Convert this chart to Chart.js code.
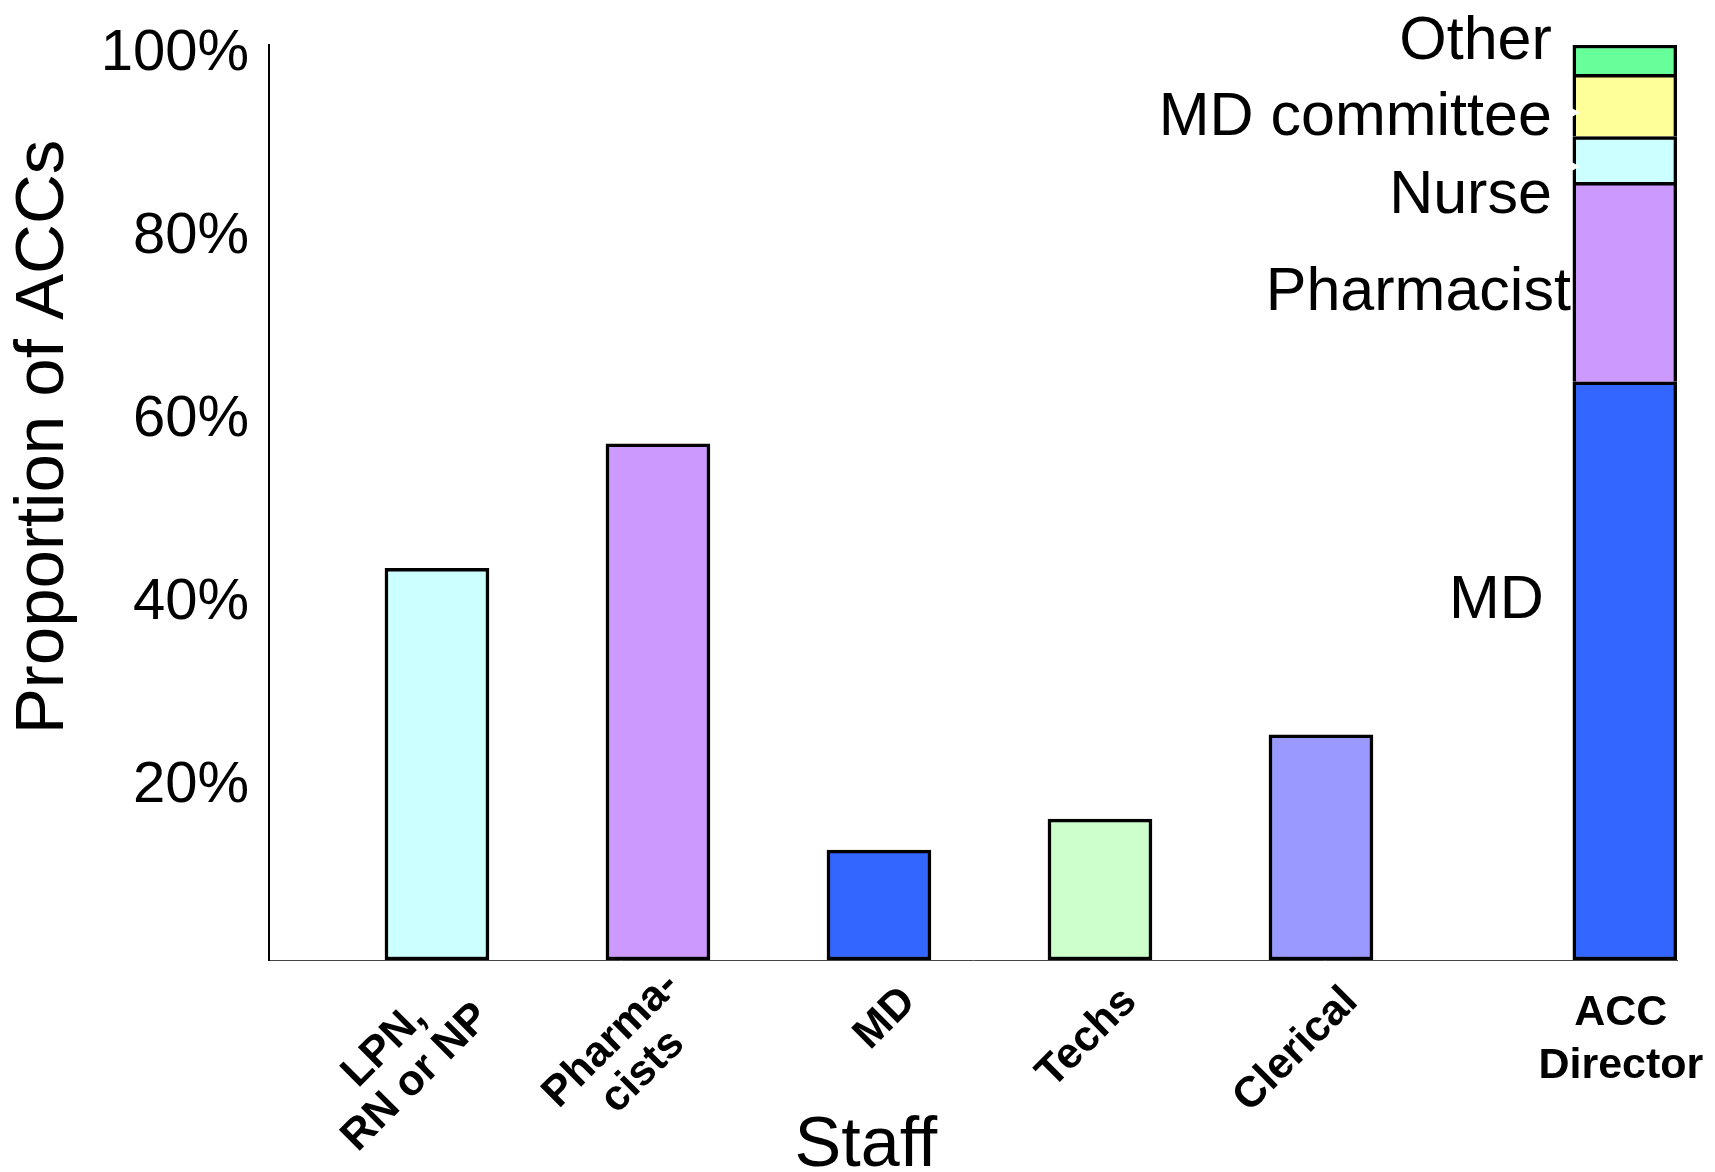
<!DOCTYPE html>
<html>
<head>
<meta charset="utf-8">
<script src="https://cdn.jsdelivr.net/npm/chart.js@4.4.1/dist/chart.umd.min.js"></script>
<style>
  html, body { margin: 0; padding: 0; background: #fff; }
  canvas { display: block; }
</style>
</head>
<body>
<canvas id="chart" width="1715" height="1172"></canvas>
<script>
const FONT = '"Liberation Sans", Arial, Helvetica, sans-serif';

// Staff groups along the x axis (each entry is the lines of its label)
const staffCategories = [['LPN,', 'RN or NP'], ['Pharma-', 'cists'], ['MD'], ['Techs'], ['Clerical']];
const staffValues = [42.8, 56.4, 12.0, 15.4, 24.6];
const staffColors = ['#CCFFFF', '#CC99FF', '#3366FF', '#CCFFCC', '#9999FF'];

// Who directs the ACC: one stacked bar, bottom to top
const directorCategory = ['ACC', 'Director'];
const directorRoles = ['MD', 'Pharmacist', 'Nurse', 'MD committee', 'Other'];
const directorValues = [63.2, 21.8, 5.0, 6.8, 3.2];
const directorColors = ['#3366FF', '#CC99FF', '#CCFFFF', '#FFFF99', '#66FF99'];

// A short gap (part of a slot) separates the staff bars from the director bar
const spacerSlots = 0.375;
const directorSlot = staffCategories.length + spacerSlots;

const yTickStep = 20;
const yMax = 100;
const yTitle = 'Proportion of ACCs';
const xTitle = 'Staff';

const BAR = 104;
const EDGE = 3.5;

// Placement of the role names beside the director bar: [dx from bar edge, dy from segment middle]
const roleLabelShift = {
  'MD': [-29, -53],
  'Pharmacist': [-2, 28],
  'Nurse': [-21, 54],
  'MD committee': [-21, 30],
  'Other': [-21, -1]
};
// Roles whose leader arrows end on the bar edge
const arrowRoles = ['MD committee', 'Nurse'];

const datasets = [{
  label: xTitle,
  data: staffValues.map((v, i) => ({ x: i, y: v })),
  backgroundColor: staffColors,
  borderColor: '#000',
  borderWidth: EDGE,
  borderSkipped: false,
  barThickness: BAR
}];

directorValues.forEach((v, i) => {
  datasets.push({
    label: directorRoles[i],
    data: [{ x: directorSlot, y: v }],
    backgroundColor: directorColors[i],
    borderColor: '#000',
    borderWidth: i === 0 ? EDGE : { top: EDGE, left: EDGE, right: EDGE, bottom: 0 },
    borderSkipped: false,
    barThickness: BAR
  });
});

const annotations = {
  id: 'annotations',
  afterDraw(chart) {
    const ctx = chart.ctx;
    const area = chart.chartArea;
    const xs = chart.scales.x;
    const ys = chart.scales.y;
    ctx.save();
    ctx.fillStyle = '#000';

    // y axis title
    ctx.save();
    ctx.translate(44, 437);
    ctx.rotate(-Math.PI / 2);
    ctx.font = '69px ' + FONT;
    ctx.textAlign = 'center';
    ctx.textBaseline = 'middle';
    ctx.fillText(yTitle, 0, 0);
    ctx.restore();

    // x axis title, centred under the staff bars
    const firstX = xs.getPixelForValue(0);
    const lastX = xs.getPixelForValue(staffCategories.length - 1);
    ctx.font = '70px ' + FONT;
    ctx.textAlign = 'center';
    ctx.textBaseline = 'alphabetic';
    ctx.fillText(xTitle, (firstX + lastX) / 2 - 13, area.bottom + 206);

    // slanted staff labels
    ctx.font = 'bold 43px ' + FONT;
    staffCategories.forEach((lines, i) => {
      const px = xs.getPixelForValue(i) + 30;
      const py = area.bottom + 35;
      const w = Math.max(...lines.map(l => ctx.measureText(l).width));
      ctx.save();
      ctx.translate(px, py);
      ctx.rotate(-Math.PI / 4);
      ctx.textAlign = 'center';
      ctx.textBaseline = 'middle';
      lines.forEach((l, j) => {
        ctx.fillText(l, -w / 2, (j - (lines.length - 1) / 2) * 45);
      });
      ctx.restore();
    });

    // director label, upright
    const accX = xs.getPixelForValue(directorSlot);
    ctx.font = 'bold 43px ' + FONT;
    ctx.textAlign = 'center';
    ctx.textBaseline = 'alphabetic';
    directorCategory.forEach((l, j) => {
      ctx.fillText(l, accX - 4, area.bottom + 65 + j * 53);
    });

    // role names beside the stacked bar
    const barLeft = accX - BAR / 2;
    ctx.font = '61px ' + FONT;
    ctx.textAlign = 'right';
    ctx.textBaseline = 'alphabetic';
    let base = 0;
    directorValues.forEach((v, i) => {
      const mid = ys.getPixelForValue(base + v / 2);
      base += v;
      const role = directorRoles[i];
      const [dx, dy] = roleLabelShift[role];
      ctx.fillStyle = '#000';
      ctx.fillText(role, barLeft + dx, mid + dy);
      if (arrowRoles.includes(role)) {
        // white arrow tip of the leader line on the bar edge
        const ay = mid + 7;
        ctx.fillStyle = '#fff';
        ctx.beginPath();
        ctx.moveTo(barLeft - 4, ay - 6);
        ctx.lineTo(barLeft + 7, ay);
        ctx.lineTo(barLeft - 4, ay + 6);
        ctx.closePath();
        ctx.fill();
      }
    });
    ctx.restore();
  }
};

new Chart(document.getElementById('chart'), {
  type: 'bar',
  data: { datasets },
  options: {
    responsive: false,
    animation: false,
    layout: { padding: { top: 45, right: 38, left: 0, bottom: 0 } },
    plugins: {
      legend: { display: false },
      tooltip: { enabled: false },
      title: { display: false }
    },
    scales: {
      x: {
        type: 'linear',
        offset: false,
        stacked: true,
        min: -0.76,
        max: directorSlot + 0.236,
        grid: { display: false, drawTicks: false, offset: false },
        ticks: { display: false },
        border: { display: true, color: '#444', width: 1 },
        afterFit(scale) { scale.height = 212; }
      },
      y: {
        stacked: true,
        min: 0,
        max: yMax,
        grid: { display: false, drawTicks: false },
        border: { display: true, color: '#000', width: 2 },
        ticks: {
          stepSize: yTickStep,
          color: '#000',
          padding: 20,
          labelOffset: 9,
          font: { family: FONT, size: 58 },
          callback: v => (v === 0 ? '' : v + '%')
        },
        afterFit(scale) {
          scale.width = 269;
          scale.paddingTop = 0;
          scale.paddingBottom = 0;
        }
      }
    }
  },
  plugins: [annotations]
});
</script>
</body>
</html>
